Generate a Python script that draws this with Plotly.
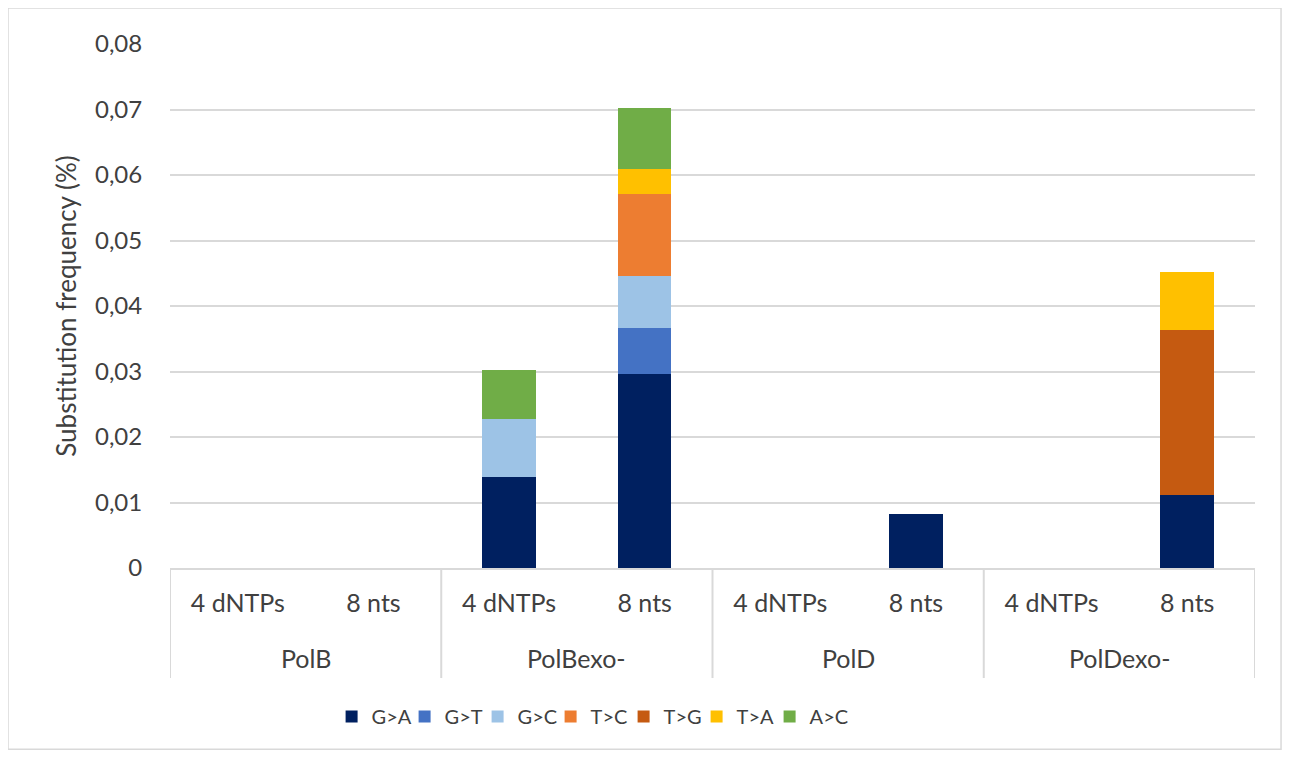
import plotly.graph_objects as go

groups = ["PolB", "PolB", "PolBexo-", "PolBexo-", "PolD", "PolD", "PolDexo-", "PolDexo-"]
conditions = ["4 dNTPs", "8 nts", "4 dNTPs", "8 nts", "4 dNTPs", "8 nts", "4 dNTPs", "8 nts"]
group_names = ["PolB", "PolBexo-", "PolD", "PolDexo-"]

series_names = ["G>A", "G>T", "G>C", "T>C", "T>G", "T>A", "A>C"]
g_a = [0, 0, 0.0139, 0.0296, 0, 0.0082, 0, 0.0112]
g_t = [0, 0, 0, 0.0071, 0, 0, 0, 0]
g_c = [0, 0, 0.0088, 0.0079, 0, 0, 0, 0]
t_c = [0, 0, 0, 0.0125, 0, 0, 0, 0]
t_g = [0, 0, 0, 0, 0, 0, 0, 0.0252]
t_a = [0, 0, 0, 0.0038, 0, 0, 0, 0.0088]
a_c = [0, 0, 0.0075, 0.0093, 0, 0, 0, 0]
series_values = [g_a, g_t, g_c, t_c, t_g, t_a, a_c]
colors = ["#002060", "#4472C4", "#9DC3E6", "#ED7D31", "#C55A11", "#FFC000", "#70AD47"]

y_ticks = [0, 0.01, 0.02, 0.03, 0.04, 0.05, 0.06, 0.07, 0.08]
y_tick_text = ["0", "0,01", "0,02", "0,03", "0,04", "0,05", "0,06", "0,07", "0,08"]

keys = [f"{g}|{c}" for g, c in zip(groups, conditions)]

fig = go.Figure()
for name, vals, col in zip(series_names, series_values, colors):
    fig.add_trace(go.Bar(
        x=keys, y=vals, name=name,
        marker=dict(color=col, line=dict(width=0)),
    ))
# invisible spacer entry so the last legend label is not clipped
fig.add_trace(go.Bar(x=[keys[0]], y=[0], name=" ", showlegend=True,
                     marker=dict(color="rgba(0,0,0,0)", line=dict(width=0)),
                     hoverinfo="skip"))

TXT = "#404040"
GRID = "#d9d9d9"
font_family = "Lato, 'Liberation Sans', sans-serif"
fig.update_layout(
    barmode="stack",
    bargap=0.605,
    width=1274, height=742,
    margin=dict(l=162, r=27, t=36, b=182, autoexpand=False),
    paper_bgcolor="white", plot_bgcolor="white",
    separators=",.",
    font=dict(family=font_family, size=24, color=TXT),
    showlegend=True,
    legend=dict(orientation="h", xref="container", yref="container",
                x=0.254, xanchor="left", y=0.045, yanchor="middle",
                font=dict(size=20, color=TXT), traceorder="normal",
                entrywidth=28, entrywidthmode="pixels", itemwidth=30),
    xaxis=dict(
        type="category",
        tickvals=keys, ticktext=conditions,
        showline=True, linecolor=GRID, linewidth=2,
        tickfont=dict(size=25, color=TXT),
        showgrid=False, ticks="outside", ticklen=12, tickcolor="rgba(0,0,0,0)",
        range=[-0.5, len(keys) - 0.5],
    ),
    yaxis=dict(
        range=[0, 0.08],
        tickvals=y_ticks, ticktext=y_tick_text,
        showgrid=True, gridcolor=GRID, gridwidth=2,
        zeroline=False, showline=False,
        tickfont=dict(size=24, color=TXT),
        title=dict(text="Substitution frequency (%)", font=dict(size=26, color=TXT), standoff=10),
        ticks="outside", ticklen=22, tickcolor="rgba(0,0,0,0)",
    ),
)

# group dividers and group labels below the category axis
n_per_group = 2
for i in range(len(group_names) + 1):
    xpos = i * n_per_group - 0.5
    fig.add_shape(type="line", xref="x", yref="paper", x0=xpos, x1=xpos, y0=0, y1=-0.21,
                  line=dict(color=GRID, width=2))
for i, gname in enumerate(group_names):
    fig.add_annotation(xref="x", yref="paper", x=i * n_per_group + 0.5, y=-0.172,
                       text=gname, showarrow=False, yanchor="middle",
                       font=dict(size=25, color=TXT))

# chart border
fig.add_shape(type="rect", xref="paper", yref="paper",
              x0=-0.1493, x1=1.0240, y0=-0.346, y1=1.0687,
              line=dict(color=GRID, width=1.5), fillcolor="rgba(0,0,0,0)", layer="below")

fig.write_html("out.html")
